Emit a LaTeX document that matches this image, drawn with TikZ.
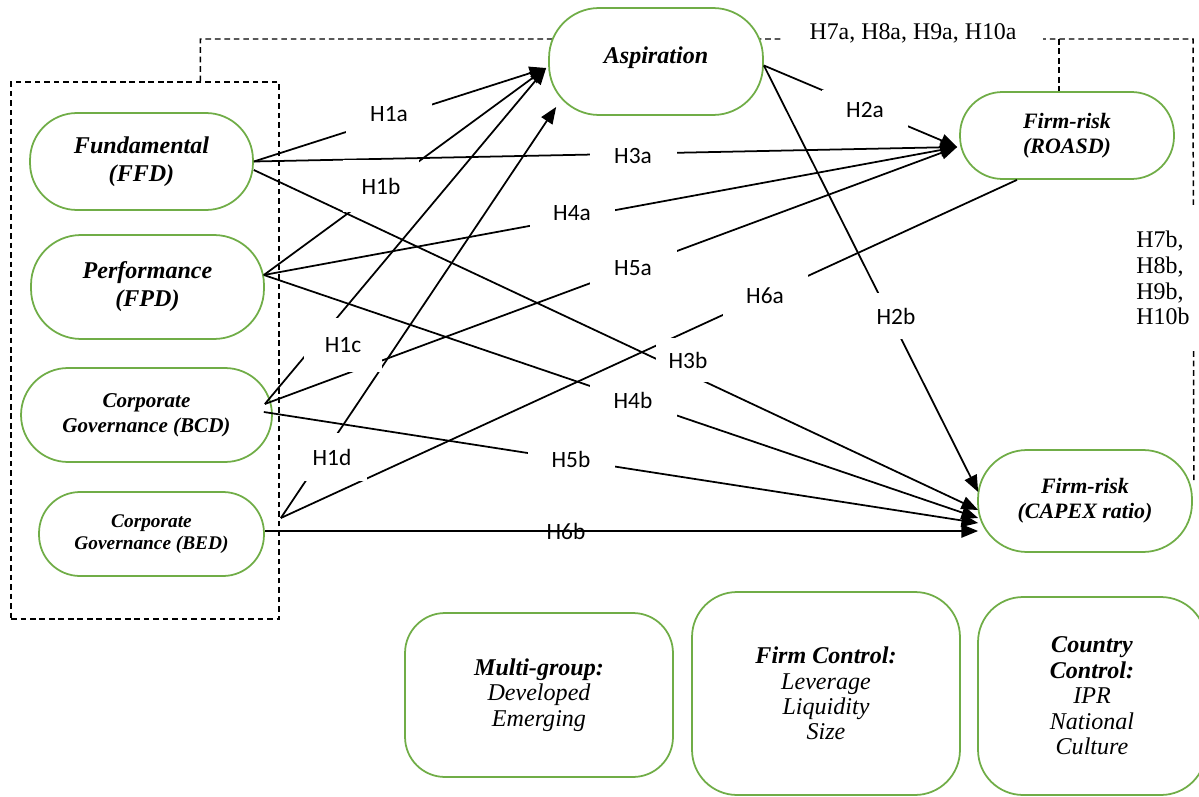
\documentclass[tikz,border=0pt]{standalone}
\usepackage{fontspec}
\setmainfont{Liberation Serif}
\newfontfamily\calibri{Carlito}
\usetikzlibrary{arrows.meta,calc,backgrounds}
\definecolor{rskgreen}{RGB}{112,173,71}

\begin{document}
\begin{tikzpicture}[x=0.02cm, y=-0.02cm,
  varbox/.style={draw=rskgreen, line width=1pt, fill=white, rounded corners=0.94cm, align=center,
    inner sep=2pt, font=\bfseries\itshape\fontsize{13.7}{16}\selectfont},
  ctrlbox/.style={draw=rskgreen, line width=1pt, fill=white, rounded corners=0.8cm, align=center,
    font=\itshape\fontsize{13.7}{14.5}\selectfont},
  hyp/.style={fill=white, inner sep=0pt, font=\calibri\fontsize{13.3}{15}\selectfont},
  modlab/.style={fill=white, inner sep=0pt, font=\fontsize{13.6}{14.6}\selectfont},
  arr/.style={-{Triangle[length=9.5pt,width=7.5pt]}, line width=1pt},
  modline/.style={line width=0.85pt, dash pattern=on 3.2pt off 2.2pt}]
\useasboundingbox (0,0) rectangle (1199,797);
\clip (0,0) rectangle (1199,797);

% Independent variables
\node[modline, draw, minimum width=5.36cm, minimum height=10.74cm] (ivbox) at (145,350.5) {};
\node[varbox, minimum width=4.46cm, minimum height=1.94cm] (ffd) at (141.5,161.5) {Fundamental\\(FFD)};
\node[varbox, rounded corners=1cm, minimum width=4.66cm, minimum height=2.08cm] (fpd) at (147.5,287) {Performance\\(FPD)};
\node[varbox, minimum width=5.02cm, minimum height=1.88cm,
  font=\bfseries\itshape\fontsize{12}{14.2}\selectfont] (bcd) at (146.5,415) {Corporate\\Governance (BCD)};
\node[varbox, rounded corners=0.82cm, minimum width=4.5cm, minimum height=1.68cm,
  font=\bfseries\itshape\fontsize{11}{12.5}\selectfont] (bed) at (151.5,534) {Corporate\\Governance (BED)};

% Mediator and outcomes
\node[varbox, rounded corners=1cm, minimum width=4.28cm, minimum height=2.14cm] (asp) at (656,61.5) {\raisebox{0.24cm}{Aspiration}};
\node[varbox, rounded corners=0.85cm, minimum width=4.28cm, minimum height=1.74cm,
  font=\bfseries\itshape\fontsize{12.5}{14.2}\selectfont] (roasd) at (1067,135.5) {Firm-risk\\(ROASD)};
\node[varbox, rounded corners=0.98cm, minimum width=4.28cm, minimum height=2.04cm,
  font=\bfseries\itshape\fontsize{12.5}{14.2}\selectfont] (capex) at (1085,501) {Firm-risk\\(CAPEX ratio)};

% Controls
\node[ctrlbox, minimum width=5.36cm, minimum height=3.28cm] (mgrp) at (539,695) {\textbf{Multi-group:}\\Developed\\Emerging};
\node[ctrlbox, rounded corners=0.9cm, minimum width=5.36cm, minimum height=4.06cm] (fctrl) at (826,693.5) {\textbf{Firm Control:}\\Leverage\\Liquidity\\Size};
\node[ctrlbox, rounded corners=0.9cm, minimum width=4.56cm, minimum height=3.96cm] (cctrl) at (1092,696) {\textbf{Country}\\\textbf{Control:}\\IPR\\National\\Culture};

% Moderation line
\coordinate (mtop) at (1193,39);
\coordinate (mfork) at (1059,39);
\begin{pgfonlayer}{background}
\draw[modline] ($(ivbox.north west)+(190,0)$) |- (mtop) -- ($(capex.north east)+(1,31)$);
\draw[modline] (mfork) -- (roasd.north -| mfork);
\end{pgfonlayer}

% Path ends
\coordinate (fpdO) at ($(fpd.east)+(-1,-12)$);
\coordinate (bcdO) at ($(bcd.east)+(-8,-11)$);
\coordinate (bcdP) at ($(bcd.east)+(-9,-3)$);
\coordinate (bedO) at ($(bed.east)+(16,-16)$);
\coordinate (bedP) at ($(bed.east)+(0,-3)$);
\coordinate (aspI) at ($(asp.west)+(-2,6.5)$);
\coordinate (aspJ) at ($(asp.west)+(8,45.5)$);
\coordinate (aspO) at ($(asp.east)+(0,4)$);
\coordinate (roaI) at ($(roasd.west)+(-2,11.5)$);
\coordinate (roaB) at ($(roasd.south)+(-50,0)$);
\coordinate (capA) at ($(capex.west)+(1,-9)$);
\coordinate (capB) at ($(capex.west)+(1,9)$);
\coordinate (capC) at ($(capex.west)+(1,17)$);
\coordinate (capD) at ($(capex.west)+(1,22)$);
\coordinate (capE) at ($(capex.west)+(1,30)$);

% Hypothesised paths
\draw[arr] (ffd.east) -- (aspI);
\draw[arr] (fpdO) -- (aspI);
\draw[arr] (bcdO) -- (aspI);
\draw[arr] (bedO) -- (aspJ);
\draw[arr] (aspO) -- (roaI);
\draw[arr] (aspO) -- (capA);
\draw[arr] (ffd.east) -- (roaI);
\draw[arr] ($(ffd.east)+(0,8.5)$) -- (capB);
\draw[arr] (fpdO) -- (roaI);
\draw[arr] (fpdO) -- (capC);
\draw[arr] (bcdO) -- (roaI);
\draw[arr] (bcdP) -- (capD);
\draw[line width=1pt] (bedO) -- (roaB);
\draw[arr] (bedP) -- (capE);

% Path labels
\node[hyp, minimum width=1.72cm, minimum height=0.8cm] (lH1a) at (389,114) {H1a};
\node[hyp, minimum width=1.54cm, minimum height=1.06cm] (lH1b) at (381,186) {H1b};
\node[hyp, minimum width=1.58cm, minimum height=1.08cm] (lH1c) at (343,345) {H1c};
\node[hyp, minimum width=1.4cm, minimum height=0.96cm] (lH1d) at (332,457) {H1d};
\node[hyp, minimum width=1.72cm, minimum height=0.8cm] (lH2a) at (865,110) {H2a};
\node[hyp, minimum width=0.96cm, minimum height=0.92cm] (lH2b) at (896,316) {H2b};
\node[hyp, minimum width=1.74cm, minimum height=0.68cm] (lH3a) at (633,156) {H3a};
\node[hyp, minimum width=1.28cm, minimum height=0.88cm] (lH3b) at (688,360) {H3b};
\node[hyp, minimum width=1.7cm, minimum height=0.68cm] (lH4a) at (572,213) {H4a};
\node[hyp, minimum width=1.74cm, minimum height=0.68cm] (lH4b) at (633,400) {H4b};
\node[hyp, minimum width=1.74cm, minimum height=0.72cm] (lH5a) at (633,268) {H5a};
\node[hyp, minimum width=1.74cm, minimum height=0.64cm] (lH5b) at (571,459) {H5b};
\node[hyp, minimum width=1.7cm, minimum height=0.84cm] (lH6a) at (765,296) {H6a};
\node[hyp, fill=none] (lH6b) at (566,531) {H6b};

% Moderation labels
\node[modlab, minimum width=5.2cm, minimum height=0.6cm] (lmoda) at (913,33) {H7a, H8a, H9a, H10a};
\node[modlab, align=left, minimum width=1.42cm, minimum height=2.92cm] (lmodb) at (1163,278) {H7b,\\H8b,\\H9b,\\H10b};
\end{tikzpicture}
\end{document}
